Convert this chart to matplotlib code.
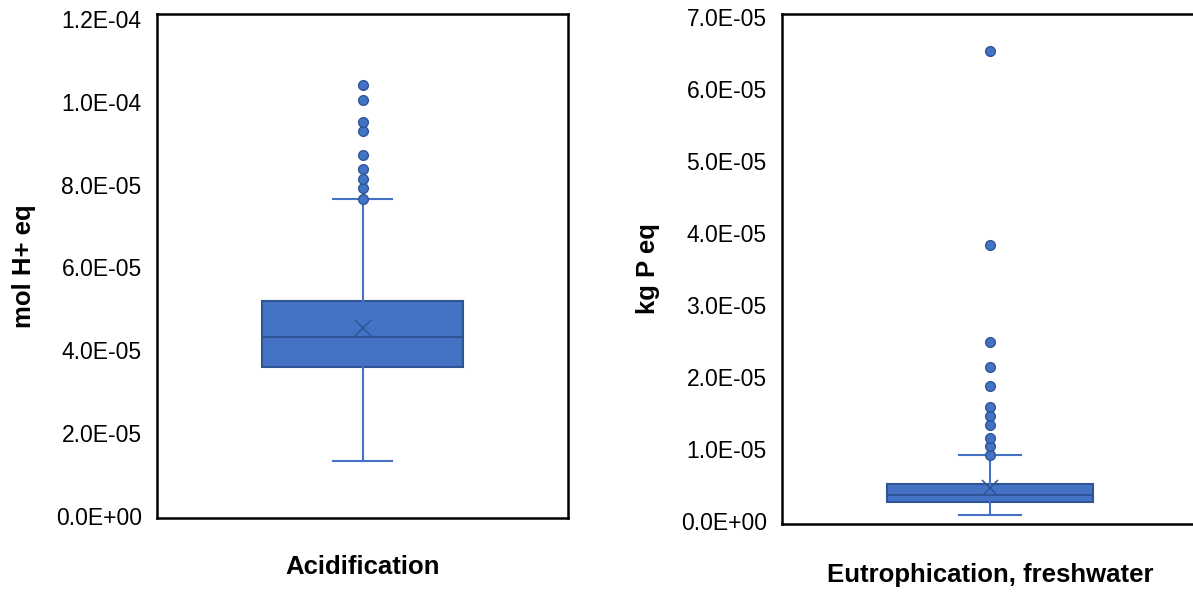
import matplotlib
matplotlib.use("Agg")
import matplotlib.pyplot as plt
from matplotlib.ticker import FuncFormatter

plt.rcParams["font.family"] = ["Liberation Sans", "DejaVu Sans"]

# Box statistics (values in the plotted units)
ACID_NAME = "Acidification"
ACID_UNIT = "mol H+ eq"
ACID_WHISLO = 1.33e-5
ACID_Q1 = 3.59e-5
ACID_MED = 4.31e-5
ACID_MEAN = 4.53e-5
ACID_Q3 = 5.20e-5
ACID_WHISHI = 7.66e-5
ACID_FLIERS = [7.66e-5, 7.93e-5, 8.14e-5, 8.39e-5, 8.72e-5,
               9.30e-5, 9.52e-5, 1.005e-4, 1.041e-4]
ACID_TICKS = [0, 2e-5, 4e-5, 6e-5, 8e-5, 1.0e-4, 1.2e-4]

EUTR_NAME = "Eutrophication, freshwater"
EUTR_UNIT = "kg P eq"
EUTR_WHISLO = 0.08e-5
EUTR_Q1 = 0.26e-5
EUTR_MED = 0.36e-5
EUTR_MEAN = 0.46e-5
EUTR_Q3 = 0.52e-5
EUTR_WHISHI = 0.91e-5
EUTR_FLIERS = [0.91e-5, 1.04e-5, 1.15e-5, 1.33e-5, 1.46e-5, 1.59e-5,
               1.87e-5, 2.14e-5, 2.49e-5, 3.83e-5, 6.53e-5]
EUTR_TICKS = [0, 1e-5, 2e-5, 3e-5, 4e-5, 5e-5, 6e-5, 7e-5]

FILL = "#4472C4"
EDGE = "#2F5597"


def sci(v, pos):
    s = f"{v:.1E}"
    mant, exp = s.split("E")
    return f"{mant}E{exp[0]}{abs(int(exp)):02d}"


def draw(ax, name, unit, lo, q1, med, mean, q3, hi, fliers, ticks,
         box_w, cap_w, pad_lo, pad_hi, xpad, ypad):
    stats = [dict(whislo=lo, q1=q1, med=med, mean=mean, q3=q3,
                  whishi=hi, fliers=fliers)]
    ax.bxp(stats, positions=[1], widths=box_w, capwidths=cap_w,
           showmeans=True, patch_artist=True,
           boxprops=dict(facecolor=FILL, edgecolor=EDGE, linewidth=1.5),
           medianprops=dict(color=EDGE, linewidth=1.5),
           whiskerprops=dict(color=FILL, linewidth=1.5),
           capprops=dict(color=FILL, linewidth=1.5),
           flierprops=dict(marker="o", markerfacecolor=FILL,
                           markeredgecolor=EDGE, markersize=7),
           meanprops=dict(marker="x", markeredgecolor=EDGE,
                          markersize=11, markeredgewidth=1.1))
    ax.set_xlim(0, 2)
    span = ticks[-1] - ticks[0]
    ax.set_ylim(ticks[0] - pad_lo * span, ticks[-1] + pad_hi * span)
    ax.set_yticks(ticks)
    ax.yaxis.set_major_formatter(FuncFormatter(sci))
    ax.set_xticks([])
    ax.tick_params(axis="y", length=0, pad=11, labelsize=16.5)
    for side in ("left", "bottom", "top", "right"):
        ax.spines[side].set_color("black")
        ax.spines[side].set_linewidth(1.8)
    ax.set_ylabel(unit, fontsize=18.5, fontweight="bold", labelpad=ypad)
    ax.set_xlabel(name, fontsize=18.5, fontweight="bold", labelpad=xpad)


fig = plt.figure(figsize=(11.93, 5.92), dpi=100)
W, H = 1193, 592

ax1 = fig.add_axes([157 / W, (H - 518) / H, 411 / W, 504 / H])
draw(ax1, ACID_NAME, ACID_UNIT, ACID_WHISLO, ACID_Q1, ACID_MED, ACID_MEAN,
     ACID_Q3, ACID_WHISHI, ACID_FLIERS, ACID_TICKS, 0.98, 0.29,
     2 / 497, 5 / 497, 27, 14)

ax2 = fig.add_axes([782 / W, (H - 524) / H, 416 / W, 510 / H])
draw(ax2, EUTR_NAME, EUTR_UNIT, EUTR_WHISLO, EUTR_Q1, EUTR_MED, EUTR_MEAN,
     EUTR_Q3, EUTR_WHISHI, EUTR_FLIERS, EUTR_TICKS, 0.99, 0.30,
     3 / 504, 3 / 504, 28, 15)
ax2.spines["right"].set_visible(False)

fig.savefig("out.png", dpi=100, facecolor="white")
